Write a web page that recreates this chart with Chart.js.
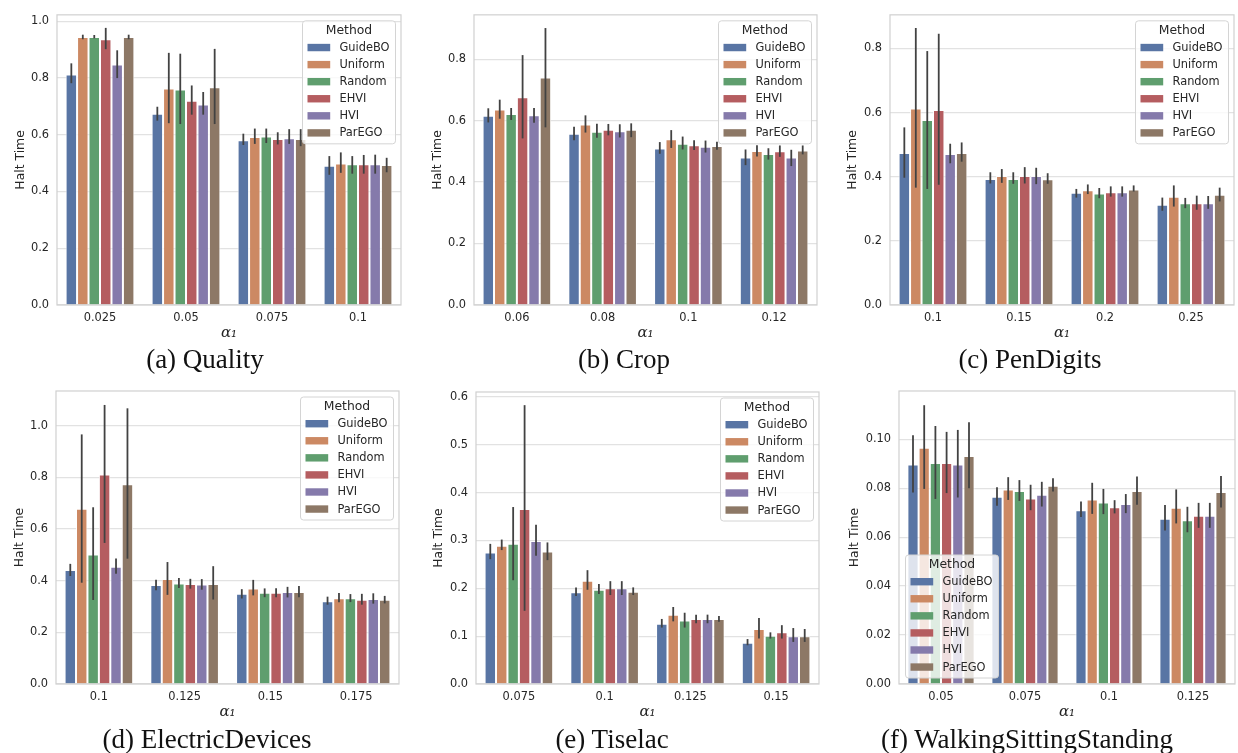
<!DOCTYPE html>
<html>
<head>
<meta charset="utf-8">
<script src="https://cdn.jsdelivr.net/npm/chart.js@4.4.0/dist/chart.umd.min.js"></script>
<style>
  body { margin: 0; background: #fff; }
  #wrap { position: relative; width: 1238px; height: 753px; overflow: hidden; background: #fff; }
  canvas { position: absolute; }
  .cap { position: absolute; width: 420px; text-align: center; font-family: "Liberation Serif", serif; font-size: 27px; line-height: 30px; color: #111; white-space: nowrap; }
</style>
</head>
<body>
<div id="wrap"></div>
<script>
const methods = ['GuideBO', 'Uniform', 'Random', 'EHVI', 'HVI', 'ParEGO'];
const colors = ['#5975a4', '#cc8963', '#5f9e6e', '#b55d60', '#857aab', '#8d7866'];

// (a) Quality
const qualityCats = ['0.025', '0.05', '0.075', '0.1'];
const qualityMean = [
  [0.813, 0.674, 0.581, 0.491],
  [0.945, 0.763, 0.592, 0.499],
  [0.945, 0.760, 0.594, 0.496],
  [0.937, 0.720, 0.585, 0.496],
  [0.848, 0.707, 0.588, 0.496],
  [0.945, 0.768, 0.585, 0.494]
];
const qualityLo = [
  [0.782, 0.650, 0.564, 0.459],
  [0.937, 0.641, 0.568, 0.466],
  [0.940, 0.638, 0.571, 0.463],
  [0.902, 0.671, 0.566, 0.463],
  [0.800, 0.671, 0.568, 0.463],
  [0.937, 0.638, 0.560, 0.468]
];
const qualityHi = [
  [0.852, 0.699, 0.604, 0.525],
  [0.953, 0.889, 0.622, 0.538],
  [0.952, 0.886, 0.622, 0.525],
  [0.977, 0.774, 0.609, 0.529],
  [0.898, 0.751, 0.620, 0.530],
  [0.953, 0.903, 0.620, 0.519]
];

// (b) Crop
const cropCats = ['0.06', '0.08', '0.1', '0.12'];
const cropMean = [
  [0.616, 0.557, 0.509, 0.480],
  [0.636, 0.587, 0.539, 0.501],
  [0.621, 0.564, 0.525, 0.491],
  [0.676, 0.570, 0.520, 0.500],
  [0.617, 0.565, 0.515, 0.480],
  [0.740, 0.570, 0.517, 0.503]
];
const cropLo = [
  [0.594, 0.536, 0.492, 0.455],
  [0.606, 0.561, 0.511, 0.483],
  [0.602, 0.544, 0.506, 0.473],
  [0.542, 0.552, 0.504, 0.482],
  [0.593, 0.545, 0.496, 0.452],
  [0.578, 0.546, 0.505, 0.490]
];
const cropHi = [
  [0.640, 0.580, 0.530, 0.506],
  [0.668, 0.617, 0.569, 0.520],
  [0.641, 0.590, 0.548, 0.510],
  [0.813, 0.589, 0.536, 0.519],
  [0.641, 0.588, 0.535, 0.505],
  [0.901, 0.591, 0.531, 0.519]
];

// (c) PenDigits
const penCats = ['0.1', '0.15', '0.2', '0.25'];
const penMean = [
  [0.474, 0.393, 0.350, 0.313],
  [0.613, 0.402, 0.358, 0.338],
  [0.577, 0.393, 0.348, 0.317],
  [0.608, 0.402, 0.352, 0.317],
  [0.471, 0.402, 0.352, 0.317],
  [0.474, 0.392, 0.360, 0.344]
];
const penLo = [
  [0.397, 0.379, 0.335, 0.294],
  [0.366, 0.381, 0.346, 0.307],
  [0.362, 0.378, 0.333, 0.302],
  [0.375, 0.379, 0.338, 0.297],
  [0.442, 0.377, 0.338, 0.300],
  [0.447, 0.378, 0.354, 0.323]
];
const penHi = [
  [0.554, 0.414, 0.362, 0.335],
  [0.864, 0.424, 0.376, 0.373],
  [0.792, 0.414, 0.365, 0.334],
  [0.846, 0.430, 0.370, 0.341],
  [0.503, 0.428, 0.370, 0.340],
  [0.507, 0.411, 0.373, 0.366]
];

// (d) ElectricDevices
const elecCats = ['0.1', '0.125', '0.15', '0.175'];
const elecMean = [
  [0.441, 0.383, 0.349, 0.320],
  [0.678, 0.406, 0.370, 0.332],
  [0.501, 0.389, 0.353, 0.332],
  [0.811, 0.387, 0.353, 0.326],
  [0.454, 0.385, 0.356, 0.329],
  [0.773, 0.387, 0.356, 0.326]
];
const elecLo = [
  [0.418, 0.363, 0.331, 0.307],
  [0.392, 0.345, 0.343, 0.316],
  [0.325, 0.372, 0.336, 0.317],
  [0.546, 0.369, 0.336, 0.307],
  [0.427, 0.365, 0.335, 0.311],
  [0.485, 0.327, 0.336, 0.312]
];
const elecHi = [
  [0.465, 0.403, 0.367, 0.338],
  [0.966, 0.472, 0.403, 0.352],
  [0.684, 0.410, 0.370, 0.348],
  [1.080, 0.407, 0.371, 0.349],
  [0.486, 0.406, 0.376, 0.351],
  [1.067, 0.456, 0.379, 0.341]
];

// (e) Tiselac
const tiseCats = ['0.075', '0.1', '0.125', '0.15'];
const tiseMean = [
  [0.275, 0.192, 0.126, 0.086],
  [0.289, 0.216, 0.145, 0.115],
  [0.293, 0.197, 0.133, 0.101],
  [0.366, 0.200, 0.136, 0.108],
  [0.299, 0.200, 0.136, 0.100],
  [0.277, 0.193, 0.136, 0.100]
];
const tiseLo = [
  [0.261, 0.184, 0.118, 0.081],
  [0.280, 0.197, 0.131, 0.095],
  [0.217, 0.188, 0.118, 0.095],
  [0.153, 0.186, 0.127, 0.095],
  [0.268, 0.186, 0.127, 0.088],
  [0.259, 0.186, 0.130, 0.088]
];
const tiseHi = [
  [0.293, 0.202, 0.136, 0.094],
  [0.302, 0.238, 0.161, 0.138],
  [0.370, 0.209, 0.149, 0.108],
  [0.583, 0.215, 0.145, 0.123],
  [0.333, 0.215, 0.145, 0.117],
  [0.296, 0.202, 0.142, 0.115]
];

// (f) WalkingSittingStanding
const walkCats = ['0.05', '0.075', '0.1', '0.125'];
const walkMean = [
  [0.0897, 0.0765, 0.0710, 0.0675],
  [0.0965, 0.0795, 0.0754, 0.0720],
  [0.0903, 0.0788, 0.0741, 0.0669],
  [0.0903, 0.0758, 0.0722, 0.0687],
  [0.0897, 0.0773, 0.0735, 0.0687],
  [0.0931, 0.0810, 0.0788, 0.0784]
];
const walkLo = [
  [0.0782, 0.0728, 0.0682, 0.0627],
  [0.0797, 0.0752, 0.0695, 0.0656],
  [0.0756, 0.0748, 0.0694, 0.0620],
  [0.0780, 0.0710, 0.0697, 0.0638],
  [0.0762, 0.0725, 0.0698, 0.0638],
  [0.0800, 0.0786, 0.0732, 0.0721]
];
const walkHi = [
  [0.1016, 0.0804, 0.0746, 0.0731],
  [0.1139, 0.0845, 0.0822, 0.0795],
  [0.1054, 0.0833, 0.0797, 0.0724],
  [0.1030, 0.0814, 0.0751, 0.0740],
  [0.1038, 0.0826, 0.0776, 0.0740],
  [0.1069, 0.0841, 0.0848, 0.0850]
];

// y axis limits / ticks per panel
const yMax = [1.023, 0.944, 0.905, 1.134, 0.6105, 0.1197];
const yStep = [0.2, 0.2, 0.2, 0.2, 0.1, 0.02];
const yDec = [1, 1, 1, 1, 1, 2];

const captions = ['(a) Quality', '(b) Crop', '(c) PenDigits', '(d) ElectricDevices', '(e) Tiselac', '(f) WalkingSittingStanding'];

// layout: canvas pos + plot area edges
const boxes = [
  { cx: 0,   cy: 0,   l: 57,  t: 13,  r: 401,  b: 305, tpad: 13.3, leg: 'ur', capX: 205,  capY: 359 },
  { cx: 410, cy: 0,   l: 474, t: 13,  r: 817,  b: 305, tpad: 20.3, leg: 'ur', capX: 624,  capY: 359 },
  { cx: 825, cy: 0,   l: 890, t: 13,  r: 1234, b: 305, tpad: 20.6, leg: 'ur', capX: 1030, capY: 359 },
  { cx: 0,   cy: 375, l: 56,  t: 391, r: 399,  b: 684, tpad: 12.0, leg: 'ur', capX: 207,  capY: 739 },
  { cx: 410, cy: 375, l: 476, t: 392, r: 819,  b: 684, tpad: 21.6, leg: 'ur', capX: 612,  capY: 739 },
  { cx: 825, cy: 375, l: 899, t: 391, r: 1235, b: 684, tpad: 22.6, leg: 'll', capX: 1027, capY: 739 }
];

const panelData = [
  [qualityCats, qualityMean, qualityLo, qualityHi],
  [cropCats, cropMean, cropLo, cropHi],
  [penCats, penMean, penLo, penHi],
  [elecCats, elecMean, elecLo, elecHi],
  [tiseCats, tiseMean, tiseLo, tiseHi],
  [walkCats, walkMean, walkLo, walkHi]
];

Chart.defaults.font.family = '"DejaVu Sans", sans-serif';
Chart.defaults.color = '#262626';

const framePlugin = {
  id: 'frame',
  afterDatasetsDraw(chart) {
    const a = chart.chartArea, ctx = chart.ctx;
    ctx.save();
    ctx.strokeStyle = '#d0d0d0';
    ctx.lineWidth = 1.2;
    ctx.strokeRect(a.left, a.top, a.right - a.left, a.bottom - a.top);
    ctx.restore();
  }
};

const errorBars = {
  id: 'errorBars',
  afterDatasetsDraw(chart) {
    const ctx = chart.ctx, y = chart.scales.y;
    ctx.save();
    ctx.strokeStyle = '#424242';
    ctx.lineWidth = 1.8;
    chart.data.datasets.forEach((ds, i) => {
      chart.getDatasetMeta(i).data.forEach((bar, j) => {
        ctx.beginPath();
        ctx.moveTo(bar.x, y.getPixelForValue(ds.lo[j]));
        ctx.lineTo(bar.x, y.getPixelForValue(ds.hi[j]));
        ctx.stroke();
      });
    });
    ctx.restore();
  }
};

const boxLegend = {
  id: 'boxLegend',
  afterDraw(chart, args, opts) {
    const a = chart.chartArea, ctx = chart.ctx;
    const w = 93, h = 123;
    const x = opts.corner === 'll' ? a.left + 6.5 : a.right - 5.5 - w;
    const y = opts.corner === 'll' ? a.bottom - 6 - h : a.top + 6;
    ctx.save();
    ctx.beginPath();
    if (ctx.roundRect) ctx.roundRect(x, y, w, h, 3); else ctx.rect(x, y, w, h);
    ctx.fillStyle = 'rgba(255,255,255,0.8)';
    ctx.fill();
    ctx.strokeStyle = '#d4d4d4';
    ctx.lineWidth = 1;
    ctx.stroke();
    ctx.fillStyle = '#262626';
    ctx.font = '12.4px "DejaVu Sans"';
    ctx.textAlign = 'center';
    ctx.textBaseline = 'middle';
    ctx.fillText('Method', x + w / 2, y + 9.8);
    ctx.font = '11.4px "DejaVu Sans"';
    ctx.textAlign = 'left';
    chart.data.datasets.forEach((ds, i) => {
      const cy = y + 26.7 + i * 17.07;
      ctx.fillStyle = ds.backgroundColor;
      ctx.fillRect(x + 5, cy - 3.7, 22.7, 7.4);
      ctx.fillStyle = '#262626';
      ctx.fillText(ds.label, x + 37, cy + 0.5);
    });
    ctx.restore();
  }
};

const wrap = document.getElementById('wrap');

boxes.forEach((bx, p) => {
  const [cats, mean, lo, hi] = panelData[p];
  const cw = Math.min(bx.r + 5, 1238) - bx.cx;
  const ch = bx.b - bx.cy + 40;
  const cv = document.createElement('canvas');
  cv.width = cw; cv.height = ch;
  cv.style.left = bx.cx + 'px';
  cv.style.top = bx.cy + 'px';
  cv.style.width = cw + 'px';
  cv.style.height = ch + 'px';
  wrap.appendChild(cv);

  const cap = document.createElement('div');
  cap.className = 'cap';
  cap.textContent = captions[p];
  cap.style.left = (bx.capX - 210) + 'px';
  cap.style.top = (bx.capY - 15) + 'px';
  wrap.appendChild(cap);

  const datasets = methods.map((m, i) => ({
    label: m,
    data: mean[i],
    lo: lo[i],
    hi: hi[i],
    backgroundColor: colors[i],
    borderColor: 'rgba(255,255,255,0.9)',
    borderWidth: 1,
    borderSkipped: 'bottom',
    categoryPercentage: 0.8,
    barPercentage: 1.0
  }));

  const yW = bx.l - bx.cx;
  const step = yStep[p], dec = yDec[p];

  new Chart(cv.getContext('2d'), {
    type: 'bar',
    data: { labels: cats, datasets: datasets },
    options: {
      responsive: false,
      animation: false,
      devicePixelRatio: 1,
      layout: { padding: { top: bx.t - bx.cy, right: cw - (bx.r - bx.cx), left: 0, bottom: 0 } },
      plugins: {
        legend: { display: false },
        tooltip: { enabled: false },
        boxLegend: { corner: bx.leg }
      },
      scales: {
        x: {
          grid: { display: false, drawTicks: false },
          border: { display: false },
          ticks: { font: { size: 11.4 }, padding: 6, color: '#262626' },
          title: {
            display: true, text: 'α₁', color: '#262626',
            font: { family: '"DejaVu Serif", serif', style: 'italic', size: 15 },
            padding: { top: 0, bottom: 3 }
          },
          afterFit: s => { s.height = 40; }
        },
        y: {
          min: 0,
          max: yMax[p],
          grid: { color: '#e2e2e2', lineWidth: 1.2, drawTicks: false },
          border: { display: false },
          ticks: {
            stepSize: step,
            includeBounds: false,
            padding: 8,
            font: { size: 11.4 },
            color: '#262626',
            callback: v => Number(v).toFixed(dec)
          },
          title: {
            display: true, text: 'Halt Time', color: '#262626',
            font: { size: 12.4 },
            padding: { top: bx.tpad, bottom: 0 }
          },
          afterFit: s => { s.width = yW; }
        }
      }
    },
    plugins: [framePlugin, errorBars, boxLegend]
  });
});
</script>
</body>
</html>
